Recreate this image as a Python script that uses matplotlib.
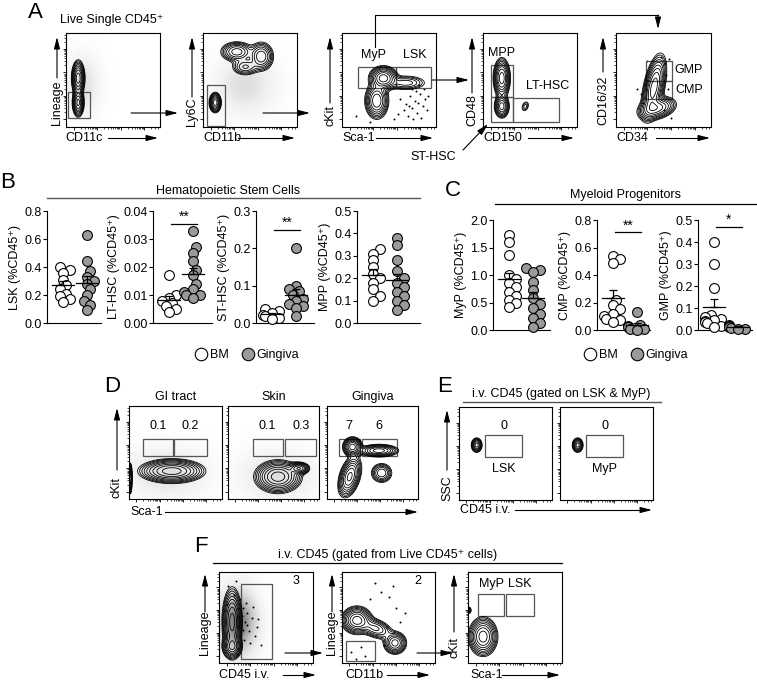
import numpy as np
import matplotlib.pyplot as plt
from matplotlib.patches import Rectangle
from matplotlib.lines import Line2D

plt.rcParams['font.family'] = ['Liberation Sans', 'DejaVu Sans']

# ---------------- data: dot plots (B, C) ----------------
lsk_bm = [0.40, 0.38, 0.36, 0.31, 0.27, 0.24, 0.21, 0.19, 0.17, 0.15]
lsk_gin = [0.63, 0.44, 0.37, 0.33, 0.30, 0.28, 0.24, 0.20, 0.16, 0.13, 0.09]
lt_bm = [0.017, 0.010, 0.009, 0.008, 0.007, 0.006, 0.005, 0.004]
lt_gin = [0.033, 0.027, 0.025, 0.022, 0.019, 0.017, 0.014, 0.012, 0.011, 0.010, 0.010, 0.009]
st_bm = [0.038, 0.032, 0.027, 0.022, 0.018, 0.014, 0.010]
st_gin = [0.20, 0.10, 0.09, 0.085, 0.075, 0.065, 0.06, 0.05, 0.045, 0.04, 0.02]
mpp_bm = [0.33, 0.31, 0.28, 0.25, 0.22, 0.20, 0.18, 0.15, 0.12, 0.10]
mpp_gin = [0.38, 0.35, 0.28, 0.23, 0.20, 0.18, 0.16, 0.14, 0.12, 0.10, 0.08, 0.06]
myp_bm = [1.72, 1.60, 1.37, 1.00, 0.92, 0.85, 0.78, 0.70, 0.62, 0.55, 0.50, 0.42]
myp_gin = [1.13, 1.10, 1.05, 0.88, 0.72, 0.58, 0.48, 0.40, 0.30, 0.22, 0.12, 0.05]
cmp_bm = [0.54, 0.52, 0.49, 0.22, 0.18, 0.15, 0.12, 0.10, 0.08, 0.07, 0.06]
cmp_gin = [0.13, 0.04, 0.03, 0.02, 0.01, 0.005, 0.0]
gmp_bm = [0.40, 0.30, 0.19, 0.07, 0.06, 0.05, 0.045, 0.04, 0.035, 0.03, 0.02, 0.015]
gmp_gin = [0.025, 0.02, 0.015, 0.01, 0.005, 0.003]

# ---------------- data: flow plots, gaussian blobs (cx, cy, sx, sy, rho, weight) ----------------
a1_blobs = [(0.13, 0.52, 0.03, 0.08, 0.0, 1.0), (0.13, 0.26, 0.027, 0.065, 0.0, 0.9)]
a1_haze = [(0.18, 0.45, 0.12, 0.22, 0.0, 1.0)]
a2_blobs = [(0.13, 0.26, 0.027, 0.045, 0.0, 1.0), (0.36, 0.80, 0.08, 0.05, 0.0, 0.5),
            (0.62, 0.75, 0.06, 0.07, 0.0, 0.55), (0.45, 0.64, 0.07, 0.045, 0.0, 0.3)]
a2_haze = [(0.45, 0.45, 0.22, 0.22, 0.0, 1.0)]
a3_blobs = [(0.44, 0.52, 0.065, 0.055, 0.0, 1.0), (0.37, 0.28, 0.055, 0.085, 0.0, 0.8),
            (0.68, 0.47, 0.11, 0.04, 0.0, 0.25)]
a4_blobs = [(0.20, 0.52, 0.038, 0.09, 0.0, 1.0), (0.20, 0.22, 0.035, 0.055, 0.0, 0.7),
            (0.45, 0.22, 0.025, 0.035, 0.3, 0.12)]
a5_blobs = [(0.40, 0.42, 0.055, 0.15, 0.5, 1.0), (0.43, 0.20, 0.09, 0.055, 0.3, 0.7)]
gi_blobs = [(0.46, 0.30, 0.15, 0.055, 0.0, 1.0), (0.015, 0.22, 0.008, 0.07, 0.0, 0.8)]
gi_haze = [(0.40, 0.28, 0.30, 0.18, 0.0, 1.0)]
skin_blobs = [(0.55, 0.24, 0.11, 0.075, 0.0, 1.0), (0.78, 0.33, 0.05, 0.028, 0.0, 0.8)]
skin_haze = [(0.55, 0.25, 0.28, 0.18, 0.0, 1.0)]
ging_blobs = [(0.28, 0.56, 0.045, 0.045, 0.0, 1.0), (0.57, 0.52, 0.095, 0.03, 0.0, 0.7),
              (0.25, 0.24, 0.055, 0.095, 0.4, 0.9), (0.60, 0.28, 0.055, 0.05, 0.0, 0.4)]
e_blobs = [(0.19, 0.59, 0.024, 0.032, 0.0, 1.0)]
f1_blobs = [(0.14, 0.45, 0.045, 0.16, 0.0, 1.0), (0.14, 0.18, 0.045, 0.055, 0.0, 0.8)]
f1_haze = [(0.20, 0.45, 0.14, 0.25, 0.0, 1.0)]
f2_blobs = [(0.16, 0.47, 0.07, 0.065, 0.0, 1.0), (0.36, 0.38, 0.085, 0.055, -0.4, 0.45),
            (0.57, 0.22, 0.055, 0.055, 0.0, 0.7)]
f3_blobs = [(0.16, 0.29, 0.065, 0.09, 0.0, 1.0), (0.01, 0.58, 0.012, 0.018, 0.0, 0.3)]

a3_dots_x = [0.62, 0.68, 0.72, 0.75, 0.78, 0.80, 0.83, 0.86, 0.88, 0.70, 0.74, 0.79, 0.84,
             0.90, 0.66, 0.76, 0.81, 0.87, 0.92, 0.71, 0.60, 0.55, 0.15, 0.30, 0.82]
a3_dots_y = [0.30, 0.25, 0.33, 0.20, 0.28, 0.15, 0.35, 0.22, 0.30, 0.12, 0.40, 0.38, 0.10,
             0.18, 0.18, 0.08, 0.26, 0.40, 0.33, 0.22, 0.14, 0.09, 0.12, 0.05, 0.45]
a5_dots_x = [0.22, 0.26, 0.30, 0.52, 0.56, 0.55, 0.33, 0.50, 0.58, 0.28, 0.47, 0.53]
a5_dots_y = [0.40, 0.35, 0.45, 0.68, 0.72, 0.40, 0.70, 0.18, 0.10, 0.26, 0.74, 0.55]
f1_dots_x = [0.10, 0.18, 0.25, 0.30, 0.35, 0.28, 0.22, 0.40, 0.32, 0.38, 0.27, 0.20, 0.16,
             0.45, 0.36, 0.24, 0.30, 0.42, 0.33, 0.26, 0.19, 0.12, 0.08, 0.29]
f1_dots_y = [0.85, 0.90, 0.60, 0.55, 0.50, 0.45, 0.70, 0.40, 0.35, 0.30, 0.25, 0.15, 0.75,
             0.20, 0.62, 0.52, 0.42, 0.48, 0.22, 0.36, 0.10, 0.06, 0.65, 0.66]
f2_dots_x = [0.30, 0.42, 0.50, 0.55, 0.62, 0.48, 0.36, 0.20, 0.10, 0.25, 0.68, 0.58, 0.45, 0.15]
f2_dots_y = [0.70, 0.78, 0.72, 0.85, 0.45, 0.40, 0.88, 0.18, 0.12, 0.08, 0.55, 0.60, 0.20, 0.04]

W, H = 757, 680
fig = plt.figure(figsize=(W / 100, H / 100), dpi=100)


def box(x0, y0, x1, y1):
    return [x0 / W, 1 - y1 / H, (x1 - x0) / W, (y1 - y0) / H]


ov = fig.add_axes([0, 0, 1, 1], zorder=10)
ov.set_xlim(0, W)
ov.set_ylim(H, 0)
ov.axis('off')
ov.patch.set_alpha(0)


def arrow(x0, y0, x1, y1):
    ov.annotate('', xy=(x1, y1), xytext=(x0, y0),
                arrowprops=dict(arrowstyle='-|>,head_length=0.7,head_width=0.18',
                                lw=0.8, color='k', shrinkA=0, shrinkB=0))


def txt(x, y, s, size=8.5, **kw):
    ov.text(x, y, s, fontsize=size, ha=kw.pop('ha', 'center'), va=kw.pop('va', 'center'), **kw)


gx, gy = np.meshgrid(np.linspace(0, 1, 220), np.linspace(0, 1, 220))


def dens(comps):
    z = np.zeros_like(gx)
    for cx, cy, sx, sy, r, w in comps:
        dx = (gx - cx) / sx
        dy = (gy - cy) / sy
        z += w * np.exp(-(dx * dx - 2 * r * dx * dy + dy * dy) / (2 * (1 - r * r)))
    return z


def flow_ax(rect, blobs, haze=None, gates=(), dots=None, dark=False, nlev=9):
    ax = fig.add_axes(box(*rect))
    ax.set_xlim(0, 1)
    ax.set_ylim(0, 1)
    if haze is not None:
        hz = dens(haze)
        ax.imshow(hz, extent=(0, 1, 0, 1), origin='lower', cmap='Greys',
                  vmin=0, vmax=hz.max() * (1.6 if dark else 4.5), aspect='auto')
    z = dens(blobs)
    ax.contour(gx, gy, z, levels=z.max() * np.geomspace(0.05, 0.8, nlev),
               colors='k', linewidths=0.6)
    if dots is not None:
        ax.scatter(dots[0], dots[1], s=2, c='k', lw=0)
    for gx0, gy0, gx1, gy1 in gates:
        ax.add_patch(Rectangle((gx0, gy0), gx1 - gx0, gy1 - gy0, fill=False,
                               ec='#555555', lw=0.9))
    minors = []
    for d in [0.08, 0.33, 0.58, 0.83]:
        minors += [d + 0.25 * np.log10(k) for k in range(1, 10) if d + 0.25 * np.log10(k) < 1]
    ax.set_xticks(minors, minor=True)
    ax.set_yticks(minors, minor=True)
    ax.set_xticks([0.08, 0.33, 0.58, 0.83])
    ax.set_yticks([0.08, 0.33, 0.58, 0.83])
    ax.tick_params(which='major', length=2.5, width=0.6, labelleft=False, labelbottom=False)
    ax.tick_params(which='minor', length=1.5, width=0.5)
    for s in ax.spines.values():
        s.set_linewidth(0.8)
    return ax


def swarm(vals, ppu, d):
    order = np.argsort(vals)
    placed, offs = [], np.zeros(len(vals))
    for i in order:
        y = vals[i] * ppu
        for c in [0, 0.35, -0.35, 0.7, -0.7, 1.0, -1.0]:
            ox = c * d
            if all((ox - a) ** 2 + (y - b) ** 2 >= (0.6 * d) ** 2 for a, b in placed):
                break
        placed.append((ox, y))
        offs[i] = ox
    return offs


def dot_ax(rect, bm, gin, ymax, step, fmt, ylabel, sig=None, stars=''):
    x0, y0, x1, y1 = rect
    ax = fig.add_axes(box(*rect))
    ppx = 24.0
    lo = 1 - 16 / ppx
    ax.set_xlim(lo, lo + (x1 - x0) / ppx)
    ax.set_ylim(0, ymax)
    ppu = (y1 - y0) / ymax
    for xpos, vals, fc in [(1, bm, 'white'), (2, gin, '#9a9a9a')]:
        vals = np.array(vals)
        xs = xpos + swarm(vals, ppu, 9.5) / ppx
        ax.scatter(xs, vals, s=50, facecolor=fc, edgecolor='k', lw=0.8, zorder=3, clip_on=False)
        m = vals.mean()
        se = vals.std(ddof=1) / np.sqrt(len(vals))
        ax.plot([xpos - 0.45, xpos + 0.45], [m, m], color='k', lw=0.9, zorder=4)
        ax.errorbar([xpos], [m], yerr=[[0], [se]], color='k', lw=0.9, capsize=3,
                    capthick=0.9, zorder=4)
    ax.spines[['top', 'right']].set_visible(False)
    for s in ax.spines.values():
        s.set_linewidth(0.8)
    ticks = np.arange(0, ymax + step / 2, step)
    ax.set_yticks(ticks)
    ax.set_yticklabels([fmt.format(t) for t in ticks])
    ax.set_xticks([])
    ax.tick_params(axis='y', length=3, width=0.8, pad=1, labelsize=9)
    ax.set_ylabel(ylabel, fontsize=9, labelpad=2)
    if sig is not None:
        ax.plot([1.1, 2.15], [sig, sig], color='k', lw=0.9, clip_on=False)
        ax.text(1.62, sig, stars, ha='center', va='bottom', fontsize=10)
    return ax


# ---------------- panel A ----------------
txt(35, 12, 'A', size=16)
txt(60, 20, 'Live Single CD45\u207a', size=9, ha='left')
flow_ax((66, 33, 160, 127), a1_blobs, a1_haze, gates=[(0.02, 0.10, 0.255, 0.37)])
flow_ax((203, 33, 297, 127), a2_blobs, a2_haze, gates=[(0.043, 0.01, 0.234, 0.447)])
ax3 = flow_ax((342, 33, 436, 127), a3_blobs, gates=[(0.17, 0.415, 0.574, 0.638),
                                                   (0.574, 0.415, 0.947, 0.638)],
              dots=(a3_dots_x, a3_dots_y))
ax4 = flow_ax((483, 33, 577, 127), a4_blobs, gates=[(0.085, 0.32, 0.32, 0.66),
                                                   (0.085, 0.053, 0.32, 0.32),
                                                   (0.32, 0.053, 0.81, 0.31)])
ax5 = flow_ax((616, 33, 711, 127), a5_blobs, gates=[(0.316, 0.49, 0.59, 0.70),
                                                   (0.316, 0.30, 0.59, 0.49)],
              dots=(a5_dots_x, a5_dots_y))
txt(373, 55, 'MyP', size=9)
txt(415, 55, 'LSK', size=9)
txt(502, 53, 'MPP', size=9)
txt(548, 86, 'LT-HSC', size=9)
txt(433, 157, 'ST-HSC', size=9)
txt(689, 70, 'GMP', size=9)
txt(689, 90, 'CMP', size=9)

for xl, lab, yc, ytop in [(57, 'Lineage', 103, 78), (192, 'Ly6C', 112, 97), (330, 'cKit', 116, 103),
                          (472, 'CD48', 110, 93), (603, 'CD16/32', 100, 72)]:
    txt(xl, yc, lab, size=9, rotation=90)
    arrow(xl, ytop, xl, 37)
for xl, lab, a0, a1 in [(65, 'CD11c', 108, 158), (203, 'CD11b', 238, 295), (342, 'Sca-1', 376, 433),
                        (483, 'CD150', 528, 574), (616, 'CD34', 656, 710)]:
    txt(xl, 138, lab, size=9, ha='left')
    ov.plot([a0, a1 - 6], [138, 138], color='k', lw=0.8)
    arrow(a1 - 8, 138, a1, 138)

arrow(131, 113, 178, 113)
arrow(263, 113, 310, 113)
arrow(432, 80, 469, 80)
ov.plot([375, 375, 658], [47, 15, 15], color='k', lw=0.8)
arrow(658, 15, 658, 29)
arrow(463, 150, 488, 124)

# ---------------- panel B ----------------
txt(8, 183, 'B', size=16)
txt(228, 191, 'Hematopoietic Stem Cells', size=9)
ov.plot([47, 420], [198, 198], color='#555555', lw=1.0)
dot_ax((47, 211, 101, 323), lsk_bm, lsk_gin, 0.8, 0.2, '{:.1f}', 'LSK (%CD45\u207a)')
dot_ax((153, 211, 212, 323), lt_bm, lt_gin, 0.04, 0.01, '{:.2f}', 'LT-HSC (%CD45\u207a)',
       sig=0.0355, stars='**')
dot_ax((256, 211, 314, 323), st_bm, st_gin, 0.3, 0.1, '{:.1f}', 'ST-HSC (%CD45\u207a)',
       sig=0.25, stars='**')
dot_ax((357, 211, 420, 323), mpp_bm, mpp_gin, 0.5, 0.1, '{:.1f}', 'MPP (%CD45\u207a)')

# ---------------- panel C ----------------
txt(453, 190, 'C', size=16)
txt(625, 195, 'Myeloid Progenitors', size=9)
ov.plot([495, 757], [204, 204], color='k', lw=0.9)
dot_ax((493, 220, 550, 330), myp_bm, myp_gin, 2.0, 0.5, '{:.1f}', 'MyP (%CD45\u207a)')
dot_ax((597, 220, 650, 330), cmp_bm, cmp_gin, 0.8, 0.2, '{:.1f}', 'CMP (%CD45\u207a)',
       sig=0.71, stars='**')
dot_ax((698, 220, 752, 330), gmp_bm, gmp_gin, 0.5, 0.1, '{:.1f}', 'GMP (%CD45\u207a)',
       sig=0.47, stars='*')

handles = [Line2D([], [], marker='o', ls='', mfc='white', mec='k', ms=9, mew=0.8),
           Line2D([], [], marker='o', ls='', mfc='#9a9a9a', mec='k', ms=9, mew=0.8)]
for cx in [247, 636]:
    fig.legend(handles, ['BM', 'Gingiva'], ncol=2, frameon=False, loc='center',
               bbox_to_anchor=(cx / W, 1 - 355 / H), fontsize=9, handletextpad=0.2,
               columnspacing=1.0, handlelength=1.0)

# ---------------- panel D ----------------
txt(112, 387, 'D', size=16)
d_gates = [[(0.15, 0.46, 0.47, 0.645), (0.48, 0.46, 0.84, 0.645)],
           [(0.27, 0.46, 0.60, 0.645), (0.63, 0.46, 0.97, 0.645)],
           [(0.13, 0.46, 0.36, 0.645), (0.38, 0.46, 0.77, 0.645)]]
d_rects = [(129, 406, 222, 499), (228, 406, 319, 499), (327, 406, 418, 499)]
d_titles = ['GI tract', 'Skin', 'Gingiva']
d_freqs = [('0.1', '0.2'), ('0.1', '0.3'), ('7', '6')]
for rect, bl, hz, gt, title, fr in zip(d_rects, [gi_blobs, skin_blobs, ging_blobs],
                                       [gi_haze, skin_haze, None], d_gates, d_titles, d_freqs):
    ax = flow_ax(rect, bl, hz, gates=gt)
    ax.set_title(title, fontsize=9, pad=4)
    for (g0, _, g1, _), f in zip(gt, fr):
        ax.text((g0 + g1) / 2, 0.72, f, ha='center', va='bottom', fontsize=9)
txt(117, 487, 'cKit', size=9, rotation=90)
arrow(117, 470, 117, 408)
txt(130, 512, 'Sca-1', size=9, ha='left')
ov.plot([165, 412], [512, 512], color='k', lw=0.8)
arrow(410, 512, 418, 512)

# ---------------- panel E ----------------
txt(445, 387, 'E', size=16)
txt(561, 394, 'i.v. CD45 (gated on LSK & MyP)', size=9)
ov.plot([463, 661], [402, 402], color='#555555', lw=1.0)
for rect, lab in [((459, 407, 552, 500), 'LSK'), ((560, 407, 653, 500), 'MyP')]:
    ax = flow_ax(rect, e_blobs, gates=[(0.28, 0.46, 0.68, 0.70)], nlev=8)
    ax.text(0.48, 0.73, '0', ha='center', va='bottom', fontsize=9)
    ax.text(0.48, 0.40, lab, ha='center', va='top', fontsize=9)
txt(447, 488, 'SSC', size=9, rotation=90)
arrow(447, 470, 447, 410)
txt(460, 510, 'CD45 i.v.', size=9, ha='left')
ov.plot([515, 646], [510, 510], color='k', lw=0.8)
arrow(644, 510, 652, 510)

# ---------------- panel F ----------------
txt(201, 547, 'F', size=16)
txt(388, 555, 'i.v. CD45 (gated from Live CD45\u207a cells)', size=9)
ov.plot([213, 562], [563, 563], color='k', lw=0.9)
fa = flow_ax((219, 572, 313, 663), f1_blobs, f1_haze, gates=[(0.234, 0.044, 0.564, 0.87)],
             dots=(f1_dots_x, f1_dots_y), dark=True)
fa.text(0.82, 0.90, '3', ha='center', va='center', fontsize=9)
fb = flow_ax((342, 572, 435, 663), f2_blobs, gates=[(0.043, 0.022, 0.355, 0.24)],
             dots=(f2_dots_x, f2_dots_y))
fb.text(0.82, 0.90, '2', ha='center', va='center', fontsize=9)
fc = flow_ax((468, 572, 562, 663), f3_blobs, gates=[(0.106, 0.516, 0.383, 0.758),
                                                   (0.404, 0.516, 0.70, 0.758)])
fc.text(0.245, 0.80, 'MyP', ha='center', va='bottom', fontsize=9)
fc.text(0.55, 0.80, 'LSK', ha='center', va='bottom', fontsize=9)
for xl, lab, yc, ytop in [(205, 'Lineage', 633, 612), (332, 'Lineage', 633, 612), (454, 'cKit', 648, 632)]:
    txt(xl, yc, lab, size=9, rotation=90)
    arrow(xl, ytop, xl, 574)
for xl, lab, a0, a1 in [(219, 'CD45 i.v.', 283, 316), (345, 'CD11b', 387, 430), (470, 'Sca-1', 502, 560)]:
    txt(xl, 675, lab, size=9, ha='left')
    ov.plot([a0, a1 - 6], [675, 675], color='k', lw=0.8)
    arrow(a1 - 8, 675, a1, 675)
arrow(285, 653, 323, 653)
arrow(417, 653, 453, 653)

fig.savefig('out.png', dpi=100)
